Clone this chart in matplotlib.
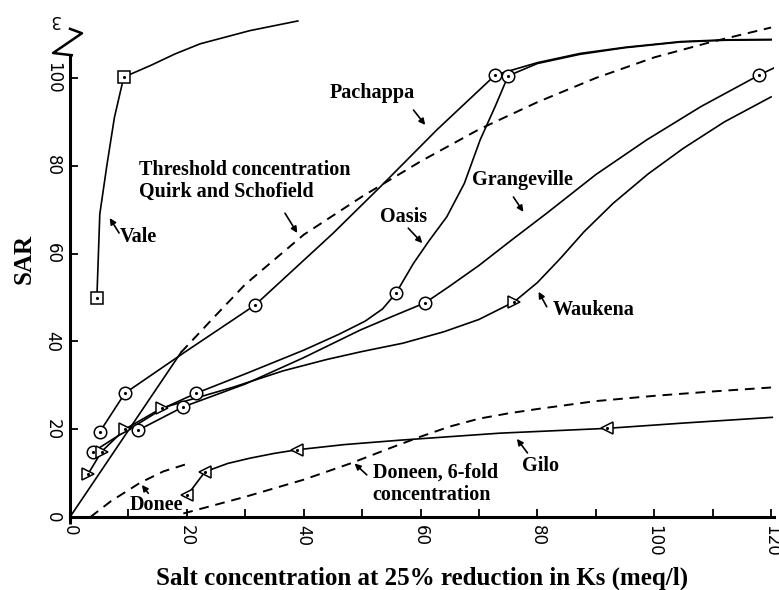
import matplotlib.pyplot as plt

# ---- data (x = salt conc. meq/l, y = SAR) ----
vale_x = [4.6, 5.1, 6.3, 7.6, 9.2, 13.7, 18, 22.3, 30.8, 39]
vale_y = [49.9, 69, 80, 91, 100.2, 102.8, 105.5, 107.8, 110.8, 113]
vale_mx = [4.6, 9.2]
vale_my = [49.9, 100.2]

pach_x = [5.1, 9.4, 19.7, 31.7, 45, 53.1, 62.8, 72.8, 80, 87.3, 95, 104.5, 112, 120]
pach_y = [19.4, 28.2, 37.6, 48.3, 64.6, 75.2, 88.2, 100.7, 103.5, 105.6, 107, 108.3, 108.7, 108.8]
pach_mx = [5.1, 9.4, 31.7, 72.8]
pach_my = [19.4, 28.2, 48.3, 100.7]

oasis_x = [4, 8, 12, 16, 21.6, 30, 40, 46, 50.5, 53.5, 55.8, 58.8, 61.5, 64.5, 67.5, 70.2, 72.8, 75,
           80, 87.3, 95, 104.5, 112, 120]
oasis_y = [14.9, 18.3, 21.5, 24.8, 28.2, 32.6, 38, 41.6, 44.6, 47.4, 51, 57.8, 63, 68.4, 76, 85.9, 93.6, 100.5,
           103.3, 105.4, 106.9, 108.2, 108.6, 108.7]
oasis_mx = [4, 21.6, 55.8, 75]
oasis_my = [14.9, 28.2, 51, 100.5]

grange_x = [11.7, 19.4, 30, 40, 49.7, 55, 60.8, 65, 70, 75.5, 81.6, 90, 98.7, 108, 118, 120.5]
grange_y = [19.8, 25.1, 30.3, 36.3, 42.6, 45.6, 48.8, 52.6, 57.3, 63, 69.2, 78, 85.9, 93.5, 100.7, 102.3]
grange_mx = [11.7, 19.4, 60.8, 118]
grange_my = [19.8, 25.1, 48.8, 100.7]

wauk_x = [3.1, 5.4, 9.4, 15.7, 20, 28, 36.5, 44, 50, 57, 64, 70, 76, 80, 84, 88, 93, 99, 105, 112, 120]
wauk_y = [9.8, 14.9, 20, 24.8, 26.5, 29.6, 33.3, 35.9, 37.7, 39.6, 42.2, 45, 49, 53.4, 59, 65, 71.5, 78.2, 84, 90, 95.7]
wauk_mx = [3.1, 5.4, 9.4, 15.7, 76]
wauk_my = [9.8, 14.9, 20, 24.8, 49]

gilo_x = [20.1, 23.1, 27, 30.8, 35, 38.8, 47, 56.5, 65, 73.6, 82, 92, 105, 120.2]
gilo_y = [5, 10.3, 12.2, 13.4, 14.5, 15.3, 16.5, 17.5, 18.3, 19.1, 19.6, 20.2, 21.4, 22.7]
gilo_mx = [20.1, 23.1, 38.8, 92]
gilo_my = [5, 10.3, 15.3, 20.2]

thresh_solid_x = [0, 19]
thresh_solid_y = [0, 37.5]
thresh_x = [19, 25, 30, 40, 50, 60, 70, 80, 90, 100, 110, 120]
thresh_y = [37.5, 46, 53, 64.3, 73, 81, 88.3, 94.5, 100, 104.7, 108.3, 111.5]

donee_x = [3.5, 7, 12, 16, 20.3]
donee_y = [0, 3.6, 7.8, 10.4, 12.2]

doneen_x = [19.4, 30, 40, 48, 55, 60, 65, 70, 75, 80, 90, 100, 110, 120]
doneen_y = [0.8, 4.6, 8.5, 12.2, 15.8, 18.3, 20.6, 22.4, 23.6, 24.6, 26.4, 27.6, 28.6, 29.5]

x_ticks = [0, 20, 40, 60, 80, 100, 120]
x_minor = [10, 30, 50, 70, 90, 110]
y_ticks = [0, 20, 40, 60, 80, 100]

serif = 'Liberation Serif'

fig = plt.figure(figsize=(7.79, 5.90), dpi=100)
ax = fig.add_axes([70 / 779, 73 / 590, 704 / 779, 515.8 / 590])
ax.set_xlim(0, 120.5)
ax.set_ylim(0, 117.5)

lw = 1.2
for xs, ys in [(vale_x, vale_y), (pach_x, pach_y), (oasis_x, oasis_y),
               (grange_x, grange_y), (wauk_x, wauk_y), (gilo_x, gilo_y),
               (thresh_solid_x, thresh_solid_y)]:
    ax.plot(xs, ys, color='black', lw=lw, solid_joinstyle='round')

for xs, ys in [(thresh_x, thresh_y), (donee_x, donee_y), (doneen_x, doneen_y)]:
    ax.plot(xs, ys, color='black', lw=1.4, dashes=(5, 3.5))

# markers with a dot in the middle
for mx, my, m, ms in [(vale_mx, vale_my, 's', 8), (pach_mx, pach_my, 'o', 9),
                      (oasis_mx, oasis_my, 'o', 9), (grange_mx, grange_my, 'o', 9),
                      (wauk_mx, wauk_my, '>', 9), (gilo_mx, gilo_my, '<', 9)]:
    ax.plot(mx, my, ls='none', marker=m, ms=ms, mfc='white', mec='black', mew=1.1, zorder=3)
    ax.plot(mx, my, ls='none', marker='.', ms=2.5, color='black', zorder=4)

# labels and arrows
txt = dict(fontfamily=serif, fontweight='bold', fontsize=14.5, color='black')
ax.text(44.5, 96.6, 'Pachappa', va='center', ha='left', **txt)
ax.text(11.8, 76.5, 'Threshold concentration\nQuirk and Schofield', va='center', ha='left',
        linespacing=1.15, **txt)
ax.text(8.6, 63.8, 'Vale', va='center', ha='left', **txt)
ax.text(53.0, 68.3, 'Oasis', va='center', ha='left', **txt)
ax.text(68.8, 76.8, 'Grangeville', va='center', ha='left', **txt)
ax.text(82.7, 47.2, 'Waukena', va='center', ha='left', **txt)
ax.text(80.5, 11.7, 'Gilo', va='center', ha='center', **txt)
ax.text(51.8, 7.6, 'Doneen, 6-fold\nconcentration', va='center', ha='left',
        linespacing=1.15, **txt)
ax.text(10.3, 2.7, 'Donee', va='center', ha='left', **txt)

arrows = [((58.8, 92.7), (60.8, 89.3)), ((36.8, 69.2), (38.9, 64.7)),
          ((8.4, 64.7), (6.8, 68.1)), ((57.9, 65.8), (60.3, 62.4)),
          ((75.9, 72.9), (77.6, 69.5)), ((81.6, 47.9), (80.2, 51.3)),
          ((78.3, 14.6), (76.5, 17.8)), ((50.8, 9.6), (48.7, 12.2)),
          ((13.4, 5.4), (12.3, 7.3))]
for tail, tip in arrows:
    ax.annotate('', xy=tip, xytext=tail,
                arrowprops=dict(arrowstyle='-|>', color='black', lw=1.2, mutation_scale=9,
                                shrinkA=0, shrinkB=0))

# axes: only left and bottom, heavy, left one broken at the top
ax.spines['top'].set_visible(False)
ax.spines['right'].set_visible(False)
ax.spines['left'].set_visible(False)
ax.spines['bottom'].set_linewidth(2.2)
ax.plot([0, 0], [-1.5, 105.2], color='black', lw=2.2, clip_on=False, solid_capstyle='butt')
ax.plot([0.3, -2.9, 2.05, 0.0], [105.2, 105.7, 110.2, 111.2], color='black', lw=1.8, clip_on=False)
ax.text(-2.6, 113.2, '3', rotation=180, ha='center', va='center', fontsize=12)

ax.set_xticks(x_ticks)
ax.set_xticks(x_minor, minor=True)
ax.set_yticks(y_ticks)
ax.set_xticklabels([str(v) for v in x_ticks], rotation=-90)
ax.set_yticklabels([str(v) for v in y_ticks], rotation=-90, va='center')
ax.tick_params(axis='both', which='both', direction='in', length=6, width=1.3, labelsize=12, pad=6)

ax.set_xlabel('Salt concentration at 25% reduction in Ks (meq/l)', fontfamily=serif,
              fontweight='bold', fontsize=18, labelpad=7)
ax.set_ylabel('SAR', fontfamily=serif, fontweight='bold', fontsize=18, labelpad=6)

fig.savefig('out.png', dpi=100)
